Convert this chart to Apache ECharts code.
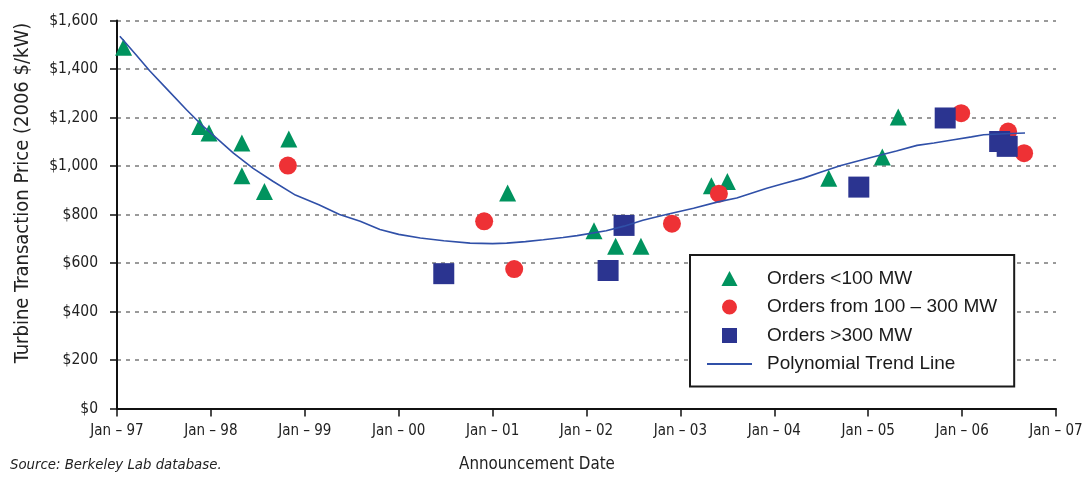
<!DOCTYPE html>
<html>
<head>
<meta charset="utf-8">
<script src="https://cdn.jsdelivr.net/npm/echarts@6/dist/echarts.min.js"></script>
<style>
html,body{margin:0;padding:0;background:#fff;}
#chart{width:1092px;height:477px;}
</style>
</head>
<body>
<div id="chart"></div>
<script>
// ---- data (decimal year, 2006 $/kW) ----
const yearTicks = [1997, 1998, 1999, 2000, 2001, 2002, 2003, 2004, 2005, 2006, 2007];
const priceTicks = [0, 200, 400, 600, 800, 1000, 1200, 1400, 1600];

const ordersUnder100 = [
  [1997.07, 1490], [1997.88, 1163], [1997.98, 1136], [1998.33, 1095],
  [1998.33, 960], [1998.57, 895], [1998.83, 1111], [2001.16, 889],
  [2002.08, 733], [2002.31, 669], [2002.58, 669], [2003.33, 919],
  [2003.50, 936], [2004.58, 950], [2005.15, 1037], [2005.32, 1202]
];
const orders100to300 = [
  [1998.82, 1002], [2000.91, 772], [2001.23, 575], [2002.91, 762],
  [2003.41, 886], [2005.99, 1218], [2006.49, 1142], [2006.66, 1053]
];
const ordersOver300 = [
  [2000.48, 556], [2002.23, 569], [2002.40, 755], [2004.90, 913],
  [2005.82, 1198], [2006.40, 1101], [2006.48, 1081]
];
const trendLine = [
  [1997.03, 1535], [1997.2, 1460], [1997.35, 1392], [1997.53, 1318],
  [1997.74, 1232], [1997.9, 1170], [1998.06, 1115], [1998.24, 1053],
  [1998.45, 990], [1998.66, 937], [1998.9, 880], [1999.15, 840],
  [1999.37, 800], [1999.59, 772], [1999.8, 738], [2000.0, 718],
  [2000.23, 703], [2000.48, 692], [2000.76, 682], [2001.0, 680],
  [2001.15, 682], [2001.35, 688], [2001.54, 696], [2001.75, 705],
  [2001.9, 713], [2002.21, 733], [2002.4, 752], [2002.6, 776],
  [2002.85, 800], [2003.14, 826], [2003.4, 852], [2003.6, 868],
  [2003.92, 908], [2004.1, 928], [2004.31, 950], [2004.5, 975],
  [2004.7, 1001], [2004.9, 1022], [2005.05, 1037], [2005.3, 1062],
  [2005.52, 1085], [2005.7, 1095], [2005.91, 1108], [2006.1, 1120],
  [2006.23, 1129], [2006.45, 1133], [2006.67, 1136]
];

const seriesNames = ['Orders <100 MW', 'Orders from 100 \u2013 300 MW', 'Orders >300 MW', 'Polynomial Trend Line'];
const yTitle = 'Turbine Transaction Price (2006 $/kW)';
const xTitle = 'Announcement Date';
const sourceNote = 'Source: Berkeley Lab database.';

// ---- chart ----
const NARROW = "'Liberation Sans Narrow', 'Arial Narrow', 'DejaVu Sans Condensed', sans-serif";
const REG = "'Liberation Sans', Arial, sans-serif";
const chart = echarts.init(document.getElementById('chart'), null, {renderer: 'canvas'});

chart.setOption({
  animation: false,
  backgroundColor: '#ffffff',
  grid: {left: 117, right: 36, top: 20.5, bottom: 68.5, containLabel: false},
  xAxis: {
    type: 'value',
    min: yearTicks[0],
    max: yearTicks[yearTicks.length - 1],
    interval: 1,
    axisLine: {lineStyle: {color: '#111', width: 2}},
    axisTick: {show: true, length: 8, lineStyle: {color: '#111', width: 1.5}},
    splitLine: {show: false},
    axisLabel: {
      margin: 15,
      fontFamily: NARROW, fontSize: 15, color: '#222',
      formatter: v => yearTicks.indexOf(v) >= 0 ? 'Jan \u2013 ' + String(v % 100).padStart(2, '0') : ''
    }
  },
  yAxis: {
    type: 'value',
    min: priceTicks[0],
    max: priceTicks[priceTicks.length - 1],
    interval: 200,
    axisLine: {show: true, lineStyle: {color: '#111', width: 2}},
    axisTick: {show: true, length: 7, lineStyle: {color: '#111', width: 1.5}},
    splitLine: {show: true, lineStyle: {color: '#9a9a9a', width: 2, type: [4, 5]}},
    axisLabel: {
      margin: 19,
      fontFamily: NARROW, fontSize: 15.5, color: '#222',
      formatter: v => '$' + v.toLocaleString('en-US')
    }
  },
  legend: {
    data: [
      {name: seriesNames[0], icon: 'path://M7.5,0L15,14L0,14Z'},
      {name: seriesNames[1], icon: 'path://M7,0A7,7,0,1,1,6.99,0Z'},
      {name: seriesNames[2], icon: 'path://M0,0H14V14H0Z'},
      {name: seriesNames[3], icon: 'path://M0,0H45V2.2H0Z'}
    ],
    orient: 'vertical',
    left: 690, top: 255,
    backgroundColor: '#fff',
    borderColor: '#1a1a1a', borderWidth: 2,
    padding: [14, 17, 13, 17],
    itemWidth: 45, itemHeight: 15, itemGap: 9.5,
    symbolKeepAspect: true,
    textStyle: {fontFamily: REG, fontSize: 19, color: '#1a1a1a', lineHeight: 18, padding: [0, 0, 0, 10]}
  },
  graphic: [
    {type: 'text', x: 23, y: 193, rotation: Math.PI / 2,
     style: {text: yTitle, fontFamily: NARROW, fontSize: 20, fill: '#222', align: 'center', verticalAlign: 'middle'}},
    {type: 'text', x: 537, y: 465,
     style: {text: xTitle, fontFamily: NARROW, fontSize: 16.8, fill: '#222', align: 'center', verticalAlign: 'middle'}},
    {type: 'text', x: 10, y: 465,
     style: {text: sourceNote, fontFamily: NARROW, fontSize: 14.8, fontStyle: 'italic', fill: '#222', align: 'left', verticalAlign: 'middle'}}
  ],
  series: [
    {name: seriesNames[0], type: 'scatter', data: ordersUnder100, symbol: 'triangle', symbolSize: 17, symbolKeepAspect: true,
     itemStyle: {color: '#00935e', opacity: 1}, z: 2},
    {name: seriesNames[1], type: 'scatter', data: orders100to300, symbol: 'circle', symbolSize: 18, symbolKeepAspect: true,
     itemStyle: {color: '#ee3135', opacity: 1}, z: 3},
    {name: seriesNames[2], type: 'scatter', data: ordersOver300, symbol: 'rect', symbolSize: 21, symbolKeepAspect: true,
     itemStyle: {color: '#2b3490', opacity: 1}, z: 4},
    {name: seriesNames[3], type: 'line', data: trendLine, symbol: 'none', showSymbol: false, smooth: false,
     lineStyle: {color: '#3050a8', width: 1.6}, itemStyle: {color: '#3050a8'}, z: 5}
  ]
});
</script>
</body>
</html>
